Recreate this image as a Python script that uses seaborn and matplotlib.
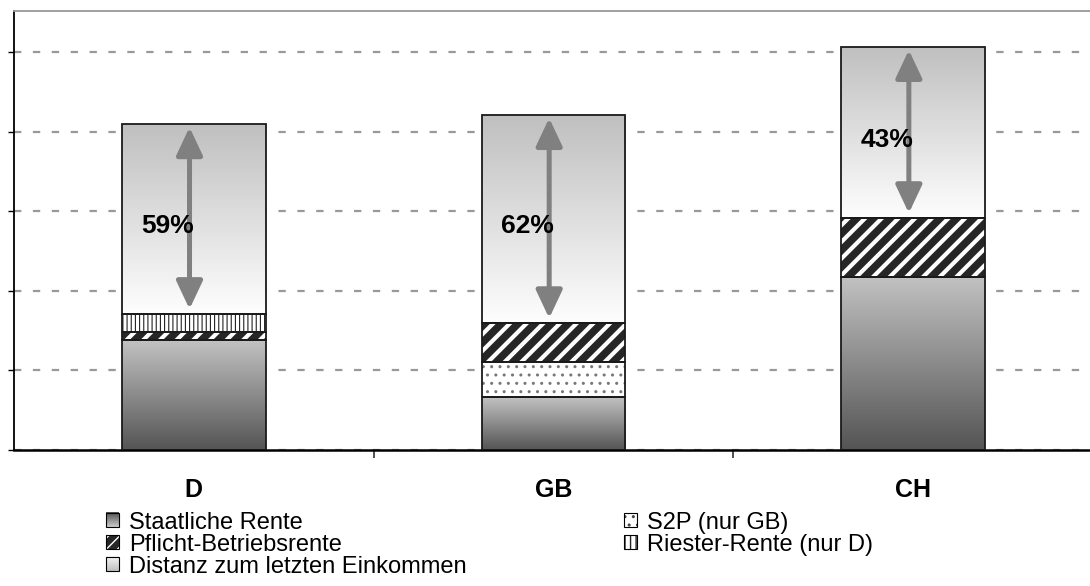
import numpy as np
import matplotlib
matplotlib.use("Agg")
import matplotlib.pyplot as plt
from matplotlib.patches import Patch
from matplotlib.legend_handler import HandlerBase
from matplotlib.image import BboxImage
from matplotlib.transforms import Bbox, TransformedBbox
import seaborn as sns

# data (units: gridline step = 20)
categories = ["D", "GB", "CH"]
staatliche = [27.6, 13.3, 43.5]
s2p = [0.0, 8.8, 0.0]
pflicht = [2.1, 9.8, 14.8]
riester = [4.5, 0.0, 0.0]
distanz = [47.7, 52.3, 43.0]
percent_labels = ["59%", "62%", "43%"]

sns.set_theme(style="white")
plt.rcParams["font.family"] = ["Liberation Sans", "DejaVu Sans"]
plt.rcParams["text.color"] = "black"
plt.rcParams["xtick.color"] = "black"
plt.rcParams["ytick.color"] = "black"

fig = plt.figure(figsize=(10.9, 5.86), dpi=100)
ax = fig.add_axes([14 / 1090, 136 / 586, 1079 / 1090, 439 / 586])

# stack order bottom -> top
layers = [
    ("Staatliche Rente", staatliche, dict(color="#888888", hatch=None, hcol=None, hlw=1.0)),
    ("S2P (nur GB)", s2p, dict(color="white", hatch="..", hcol="#777777", hlw=1.0)),
    ("Pflicht-Betriebsrente", pflicht, dict(color="#262626", hatch="//", hcol="white", hlw=3.0)),
    ("Riester-Rente (nur D)", riester, dict(color="white", hatch="||||", hcol="#222222", hlw=0.8)),
    ("Distanz zum letzten Einkommen", distanz, dict(color="#dddddd", hatch=None, hcol=None, hlw=1.0)),
]

bottom = np.zeros(len(categories))
layer_patches = {}
for name, vals, st in layers:
    plt.rcParams["hatch.linewidth"] = st["hlw"]
    n0 = len(ax.patches)
    sns.barplot(x=categories, y=vals, width=0.4, errorbar=None,
                color=st["color"], linewidth=0, ax=ax, zorder=2)
    new = ax.patches[n0:]
    for p, b in zip(new, bottom):
        p.set_y(b)
        p.set_facecolor(st["color"])
        p.set_linewidth(0)
        if st["hatch"]:
            p.set_edgecolor(st["hcol"])
            p.set_hatch(st["hatch"])
            if hasattr(p, "set_hatch_linewidth"):
                p.set_hatch_linewidth(st["hlw"])
    layer_patches[name] = new
    # outlines
    n0 = len(ax.patches)
    sns.barplot(x=categories, y=vals, width=0.4, errorbar=None,
                fill=False, edgecolor="#1a1a1a", linewidth=1.3, ax=ax, zorder=3)
    for p, b in zip(ax.patches[n0:], bottom):
        p.set_y(b)
    bottom = bottom + np.array(vals)


def grad_img(top_grey, bottom_grey):
    g = np.linspace(top_grey, bottom_grey, 256).reshape(-1, 1)
    return np.dstack([g, g, g])


# gradients for the plain segments
def gradient(patches, top_grey, bottom_grey):
    img = grad_img(top_grey, bottom_grey)
    for p in patches:
        x0, y0 = p.get_x(), p.get_y()
        w, h = p.get_width(), p.get_height()
        im = ax.imshow(img, extent=[x0, x0 + w, y0, y0 + h], aspect="auto",
                       origin="upper", zorder=2.5, interpolation="bilinear")
        im.set_clip_path(p)
        p.set_facecolor("none")

gradient(layer_patches["Staatliche Rente"], 0.76, 0.33)
gradient(layer_patches["Distanz zum letzten Einkommen"], 0.75, 0.995)

# arrows + percentages over the "Distanz" segment
base = np.array(staatliche) + np.array(s2p) + np.array(pflicht) + np.array(riester)
top = base + np.array(distanz)
for i, lab in enumerate(percent_labels):
    xa = i - 0.012
    ax.annotate("", xy=(xa, top[i] - 0.8), xytext=(xa, base[i] + 1.2),
                arrowprops=dict(arrowstyle="<|-|>,head_length=0.85,head_width=0.4",
                                color="#808080", lw=3.6, shrinkA=0, shrinkB=0,
                                mutation_scale=20), zorder=4)
    ax.text(xa + 0.012, (base[i] + top[i]) / 2 - 1.8, lab, ha="right", va="center",
            fontsize=19, fontweight="bold", color="black", zorder=5)

# axes styling
ax.set_xlim(-0.5, 2.5)
ax.set_ylim(0, 110.3)
ax.set_yticks([0, 20, 40, 60, 80, 100])
ax.set_yticklabels([])
ax.yaxis.grid(True, color="#999999", linestyle=(0, (3.3, 5.2)), linewidth=1.6)
ax.xaxis.grid(False)
ax.set_axisbelow(True)
ax.tick_params(axis="y", which="major", left=True, length=4.5, width=1, color="black")
ax.set_xticks([0, 1, 2])
ax.set_xticklabels(categories, fontsize=18, fontweight="bold", color="black")
ax.set_xticks([0.5, 1.5], minor=True)
ax.tick_params(axis="x", which="major", length=0, pad=20)
ax.tick_params(axis="x", which="minor", bottom=True, length=6, width=1.2, color="#333333")
ax.set_xlabel("")
ax.set_ylabel("")
for s in ["left", "bottom"]:
    ax.spines[s].set_color("black")
    ax.spines[s].set_linewidth(1.3)
ax.spines["bottom"].set_linewidth(1.8)
ax.spines["top"].set_color("#999999")
ax.spines["top"].set_linewidth(1.3)
ax.spines["right"].set_visible(False)


# legend: gradient swatch handler for the plain segments
class GradientHandler(HandlerBase):
    def __init__(self, top_grey, bottom_grey):
        super().__init__()
        self.img = grad_img(top_grey, bottom_grey)

    def create_artists(self, legend, orig_handle, xdescent, ydescent, width, height,
                       fontsize, trans):
        bb = TransformedBbox(Bbox.from_bounds(-xdescent, -ydescent, width, height), trans)
        im = BboxImage(bb, interpolation="bilinear")
        im.set_data(self.img)
        rect = plt.Rectangle((-xdescent, -ydescent), width, height, facecolor="none",
                             edgecolor="black", linewidth=0.8, transform=trans)
        return [im, rect]


def outline():
    return Patch(facecolor="none", edgecolor="black", linewidth=0.8)

h_staat = Patch(facecolor="#8a8a8a")
h_dist = Patch(facecolor="#dcdcdc")
handles = [
    h_staat,
    (Patch(facecolor="#262626", edgecolor="white", hatch="///", linewidth=0), outline()),
    h_dist,
    (Patch(facecolor="white", edgecolor="#444444", hatch="..", linewidth=0), outline()),
    (Patch(facecolor="white", edgecolor="#222222", hatch="|||", linewidth=0), outline()),
]
labels = ["Staatliche Rente", "Pflicht-Betriebsrente", "Distanz zum letzten Einkommen",
          "S2P (nur GB)", "Riester-Rente (nur D)"]
fig.legend(handles, labels, loc="upper left", bbox_to_anchor=(0.097, 0.127), ncol=2,
           frameon=False, fontsize=17, handlelength=0.55, handleheight=0.55,
           handletextpad=0.42, labelspacing=0.0, columnspacing=6.7,
           borderpad=0, borderaxespad=0, labelcolor="black",
           handler_map={h_staat: GradientHandler(0.3, 0.8),
                        h_dist: GradientHandler(0.97, 0.75)})

fig.savefig("out.png", dpi=100)
